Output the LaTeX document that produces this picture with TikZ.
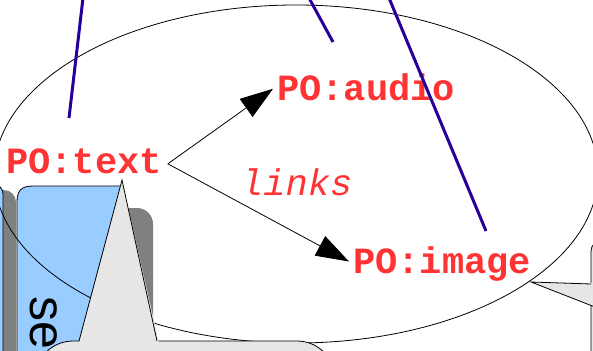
\documentclass[tikz,border=0pt]{standalone}
\usepackage{fontspec}
\setmonofont{Liberation Mono}
\setsansfont{Liberation Sans}
\usetikzlibrary{arrows.meta}
\definecolor{pored}{RGB}{255,51,51}
\definecolor{lineblue}{RGB}{38,0,153}
\definecolor{boxblue}{RGB}{153,204,255}
\definecolor{shadowgray}{RGB}{128,128,128}
\definecolor{calloutgray}{RGB}{230,230,230}
\tikzset{
  poterm/.style={text=pored, font=\ttfamily\bfseries\fontsize{37}{40}\selectfont, inner xsep=4pt, inner ysep=0pt, anchor=base west},
  linklabel/.style={text=pored, font=\ttfamily\itshape\fontsize{37}{40}\selectfont, inner sep=0pt, anchor=base west},
  bigarrow/.style={draw=black, line width=0.8pt, -{Triangle[length=33pt,width=22pt]}},
  blueline/.style={draw=lineblue, line width=3pt},
  shadowfill/.style={fill=shadowgray},
  bluebox/.style={fill=boxblue, draw=black, line width=0.8pt},
  callout/.style={fill=calloutgray, draw=black, line width=0.8pt},
  outline/.style={draw=black, line width=0.8pt}
}
\begin{document}
\begin{tikzpicture}[x=1pt,y=-1pt]
\useasboundingbox (0,0) rectangle (593,350);
\clip (0,0) rectangle (593,350);
% left boxes with shadows
\fill[shadowfill, rounded corners=12pt] (-60,190) rectangle (16,420);
\path[bluebox, rounded corners=10pt] (-70,184) rectangle (3,420);
\fill[shadowfill, rounded corners=16pt] (40,208) rectangle (153,420);
\path[bluebox] (17,420) -- (17,202) .. controls (17,191) and (21,186) .. (33,186) -- (122,186) -- (122,420) -- cycle;
\node[rotate=-90, anchor=base west, inner sep=0pt, font=\sffamily\fontsize{50}{54}\selectfont] (se) at (30,296) {se};
% ellipse
\draw[outline] (296,174) ellipse [x radius=302pt, y radius=169pt];
% left callout
\path[callout, rounded corners=38pt] (35,341) rectangle (335,440);
\fill[calloutgray] (79,343) -- (122,180) -- (159,343) -- cycle;
\draw[outline, line join=miter] (79,341) -- (122,180) -- (157,341);
% right callout
\path[callout, rounded corners=14pt] (591,238) rectangle (700,420);
\fill[calloutgray] (592,283) -- (531,282) -- (592,306) -- cycle;
\draw[outline] (591,284) -- (531,282) -- (600,309);
% terms
\node[poterm, inner xsep=6pt] (t) at (0,173) {PO:text};
\node[poterm] (a) at (273,100) {PO:audio};
\node[poterm] (i) at (349,273) {PO:image};
\node[linklabel] (l) at (241,195) {links};
\draw[bigarrow] ([yshift=-3pt]t.east) -- ([yshift=-2pt]a.west);
\draw[bigarrow] ([yshift=-3pt]t.east) -- ([yshift=2pt]i.west);
% blue lines
\coordinate (b1s) at (83,-2);
\coordinate (b1e) at (69,118);
\coordinate (b2s) at (309,-2);
\coordinate (b2e) at (333,42);
\coordinate (b3s) at (389,-2);
\coordinate (b3e) at (486,231);
\draw[blueline] (b1s) -- (b1e);
\draw[blueline] (b2s) -- (b2e);
\draw[blueline] (b3s) -- (b3e);
\end{tikzpicture}
\end{document}
